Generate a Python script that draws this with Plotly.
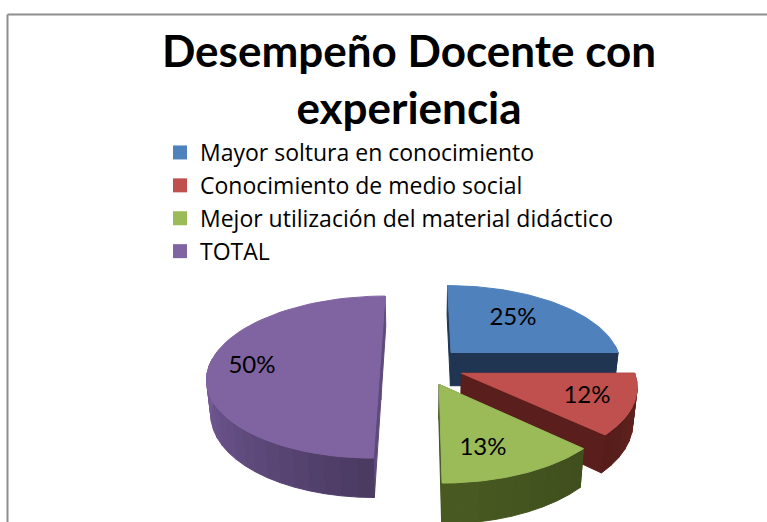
import math
import plotly.graph_objects as go

categories = ["Mayor soltura en conocimiento", "Conocimiento de medio social",
              "Mejor utilización del material didáctico", "TOTAL"]
values = [25, 12, 13, 50]
top_colors = ["#4f81bd", "#c0504d", "#9bbb59", "#8064a2"]
wall_colors = ["#1f3552", "#5a1f1c", "#43531f", "#5f4a7c"]
label_x = [513, 587, 483, 252]
label_y = [319, 397, 449, 367]

W, H = 767, 522
VX, VY, R, EXPLODE, Q, K, DEPTH = 422, 366, 171, 42, 0.465, 0.0008, 34


def project(X, Y, bottom=False):
    s = 1 / (1 - K * Y)
    xs = 0.98 if bottom else 1.0
    return VX + X * s * xs, VY + Y * s * Q + (DEPTH * s if bottom else 0)


def rim(a0, a1, n=40):
    return [a0 + (a1 - a0) * i / n for i in range(n + 1)]


def pt(cx, cy, ang, bottom=False):
    r = math.radians(ang)
    return project(cx + R * math.sin(r), cy - R * math.cos(r), bottom)


def shade(color, f):
    c = [int(color[i:i + 2], 16) for i in (1, 3, 5)]
    return "#%02x%02x%02x" % tuple(max(0, min(255, int(v * f))) for v in c)


def poly(pts, color):
    xs = [p[0] for p in pts] + [pts[0][0]]
    ys = [p[1] for p in pts] + [pts[0][1]]
    return go.Scatter(x=xs, y=ys, mode="lines", fill="toself", fillcolor=color,
                      line=dict(color=color, width=1), hoverinfo="skip", showlegend=False)


fig = go.Figure()
start = 0.0
total = sum(values)
for i, v in enumerate(values):
    end = start + 360.0 * v / total
    mid = math.radians((start + end) / 2)
    cx, cy = EXPLODE * math.sin(mid), -EXPLODE * math.cos(mid)
    # radial faces
    for ang in (start, end):
        a = pt(cx, cy, ang)
        b = pt(cx, cy, ang, True)
        c = project(cx, cy, True)
        d = project(cx, cy)
        fig.add_trace(poly([d, a, b, c], wall_colors[i]))
    # outer wall, shaded in steps
    n = max(4, int((end - start) / 5))
    angs = rim(start, end, n)
    for j in range(n):
        a0, a1 = angs[j], angs[j + 1]
        am = (a0 + a1) / 2
        if math.cos(math.radians(am)) > 0.05:
            continue
        f = 1.0
        if i == 3:
            f = 0.78 + 0.47 * max(0.0, min(1.0, (am - 180) / 90))
        elif i == 2:
            f = 0.95 + 0.15 * (am - start) / (end - start)
        elif i == 1:
            f = 0.95 + 0.2 * (end - am) / (end - start)
        fig.add_trace(poly([pt(cx, cy, a0), pt(cx, cy, a1), pt(cx, cy, a1, True), pt(cx, cy, a0, True)],
                           shade(wall_colors[i], f)))
    # top face
    top = [project(cx, cy)] + [pt(cx, cy, a) for a in rim(start, end, 60)]
    fig.add_trace(poly(top, top_colors[i]))
    start = end

# percentage labels
fig.add_trace(go.Scatter(x=label_x, y=label_y, mode="text",
                         text=[f"{v}%" for v in values],
                         textposition="middle center",
                         textfont=dict(family="Lato, Carlito, sans-serif", size=24, color="#000000"),
                         hoverinfo="skip", showlegend=False))

# legend entries
for name, color in zip(categories, top_colors):
    fig.add_trace(go.Scatter(x=[None], y=[None], mode="markers", name=name,
                             marker=dict(symbol="square", size=14, color=color)))

fig.update_layout(
    width=W, height=H,
    margin=dict(l=0, r=0, t=0, b=0),
    paper_bgcolor="#ffffff", plot_bgcolor="#ffffff",
    xaxis=dict(range=[0, W], visible=False, fixedrange=True),
    yaxis=dict(range=[H, 0], visible=False, fixedrange=True),
    title=dict(text="<b>Desempeño Docente con<br>experiencia</b>",
               x=409 / W, xanchor="center", y=1 - 67 / H, yanchor="top",
               font=dict(family="Lato, Carlito, sans-serif", size=44, color="#000000")),
    legend=dict(x=160 / W, y=1 - 131 / H, xanchor="left", yanchor="top",
                font=dict(family="Open Sans, sans-serif", size=23, color="#000000"),
                bgcolor="rgba(0,0,0,0)"),
    shapes=[
        dict(type="line", xref="paper", yref="paper", x0=7.5 / W, x1=7.5 / W, y0=0, y1=1 - 14.5 / H,
             line=dict(color="#8e8e8e", width=2)),
        dict(type="line", xref="paper", yref="paper", x0=7.5 / W, x1=1, y0=1 - 14.5 / H, y1=1 - 14.5 / H,
             line=dict(color="#8e8e8e", width=2)),
    ],
)
fig.write_html("out.html", config={"displayModeBar": False},
               post_script="document.body.style.margin='0';document.body.style.overflow='hidden';")
